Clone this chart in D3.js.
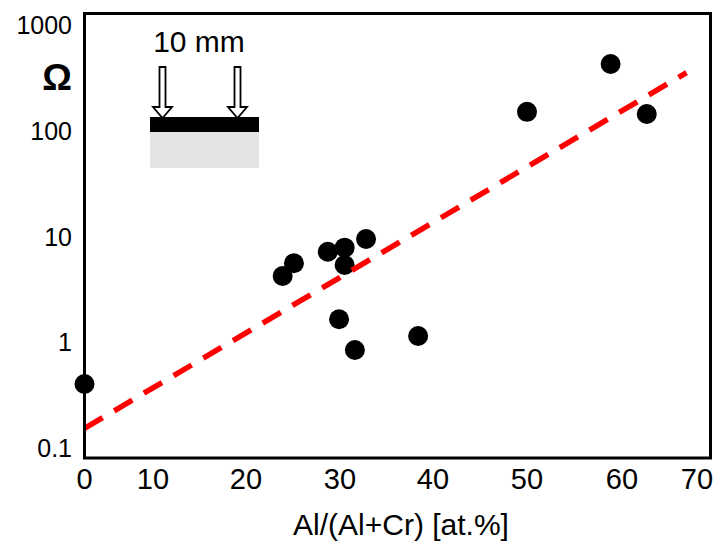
<!DOCTYPE html>
<html>
<head>
<meta charset="utf-8">
<script src="https://cdn.jsdelivr.net/npm/d3@7/dist/d3.min.js"></script>
<style>
  html, body { margin: 0; padding: 0; background: #fff; }
  svg { display: block; font-family: "Liberation Sans", Arial, sans-serif; }
</style>
</head>
<body>
<svg id="chart" width="716" height="544"></svg>
<script>
// Sheet resistance vs. Al content of the (Al,Cr)N coatings
const alContent = [0, 23.9, 25.1, 28.7, 30.5, 30.5, 32.8, 29.9, 31.6, 38.4, 50.0, 58.8, 63.3];
const resistance = [0.403, 4.23, 5.58, 7.18, 7.84, 5.38, 9.47, 1.65, 0.845, 1.146, 151, 428, 144];

// Exponential trend: end points of the fitted line
const trendX = [0, 68.6];
const trendY = [0.1535, 354];

const xTicks = [0, 10, 20, 30, 40, 50, 60, 70];
const yTicks = [0.1, 1, 10, 100, 1000];
const yTickLabels = ["0.1", "1", "10", "100", "1000"];
const xTitle = "Al/(Al+Cr) [at.%]";
const yUnit = "\u03A9";
const probeLabel = "10 mm";

const svg = d3.select("#chart");

// Frame of the plotting area
const frame = { left: 84.5, right: 710.5, top: 13.5, bottom: 458 };

// The axis labels sit on uneven spacing, so the scale runs through each of them
const x = d3.scaleLinear()
  .domain(xTicks)
  .range([84.5, 153, 246, 340, 433, 527, 622, 697]);

const y = d3.scaleLog()
  .domain([0.1, 1000])
  .range([448, 25]);

// data points
svg.append("g")
  .selectAll("circle")
  .data(alContent.map((v, i) => [v, resistance[i]]))
  .join("circle")
  .attr("cx", d => x(d[0]))
  .attr("cy", d => y(d[1]))
  .attr("r", 10)
  .attr("fill", "#000");

// dashed trend line
const line = d3.line().x(d => x(d[0])).y(d => y(d[1]));
svg.append("path")
  .datum(trendX.map((v, i) => [v, trendY[i]]))
  .attr("d", line)
  .attr("fill", "none")
  .attr("stroke", "#ff0000")
  .attr("stroke-width", 5.5)
  .attr("stroke-dasharray", "21 13.5");

// frame
svg.append("rect")
  .attr("x", frame.left)
  .attr("y", frame.top)
  .attr("width", frame.right - frame.left)
  .attr("height", frame.bottom - frame.top)
  .attr("fill", "none")
  .attr("stroke", "#000")
  .attr("stroke-width", 3);

// x tick labels
svg.append("g")
  .selectAll("text")
  .data(xTicks)
  .join("text")
  .attr("x", d => x(d))
  .attr("y", 489)
  .attr("text-anchor", "middle")
  .attr("font-size", 29)
  .attr("fill", "#000")
  .text(d => d);

// y tick labels
svg.append("g")
  .selectAll("text")
  .data(yTicks)
  .join("text")
  .attr("x", 72)
  .attr("y", d => y(d))
  .attr("dy", "0.36em")
  .attr("text-anchor", "end")
  .attr("font-size", 25)
  .attr("fill", "#000")
  .text((d, i) => yTickLabels[i]);

// unit symbol
svg.append("text")
  .attr("x", 57)
  .attr("y", 77)
  .attr("dy", "0.36em")
  .attr("text-anchor", "middle")
  .attr("font-size", 37)
  .attr("font-weight", "bold")
  .text(yUnit);

// axis title
svg.append("text")
  .attr("x", 401)
  .attr("y", 535)
  .attr("text-anchor", "middle")
  .attr("font-size", 30)
  .text(xTitle);

// probe sketch: coating on substrate with two contacts
const probe = svg.append("g");
probe.append("rect").attr("x", 150).attr("y", 132).attr("width", 109).attr("height", 36).attr("fill", "#e4e4e4");
probe.append("rect").attr("x", 150).attr("y", 117).attr("width", 109).attr("height", 15).attr("fill", "#000");
[162.5, 237.5].forEach(cx => {
  const p = d3.path();
  p.moveTo(cx - 3, 67);
  p.lineTo(cx + 3, 67);
  p.lineTo(cx + 3, 107);
  p.lineTo(cx + 9.5, 107);
  p.lineTo(cx, 118);
  p.lineTo(cx - 9.5, 107);
  p.lineTo(cx - 3, 107);
  p.closePath();
  probe.append("path").attr("d", p.toString()).attr("fill", "#fff").attr("stroke", "#000").attr("stroke-width", 1.8);
});
probe.append("text")
  .attr("x", 199)
  .attr("y", 41)
  .attr("dy", "0.36em")
  .attr("text-anchor", "middle")
  .attr("font-size", 30)
  .text(probeLabel);
</script>
</body>
</html>
